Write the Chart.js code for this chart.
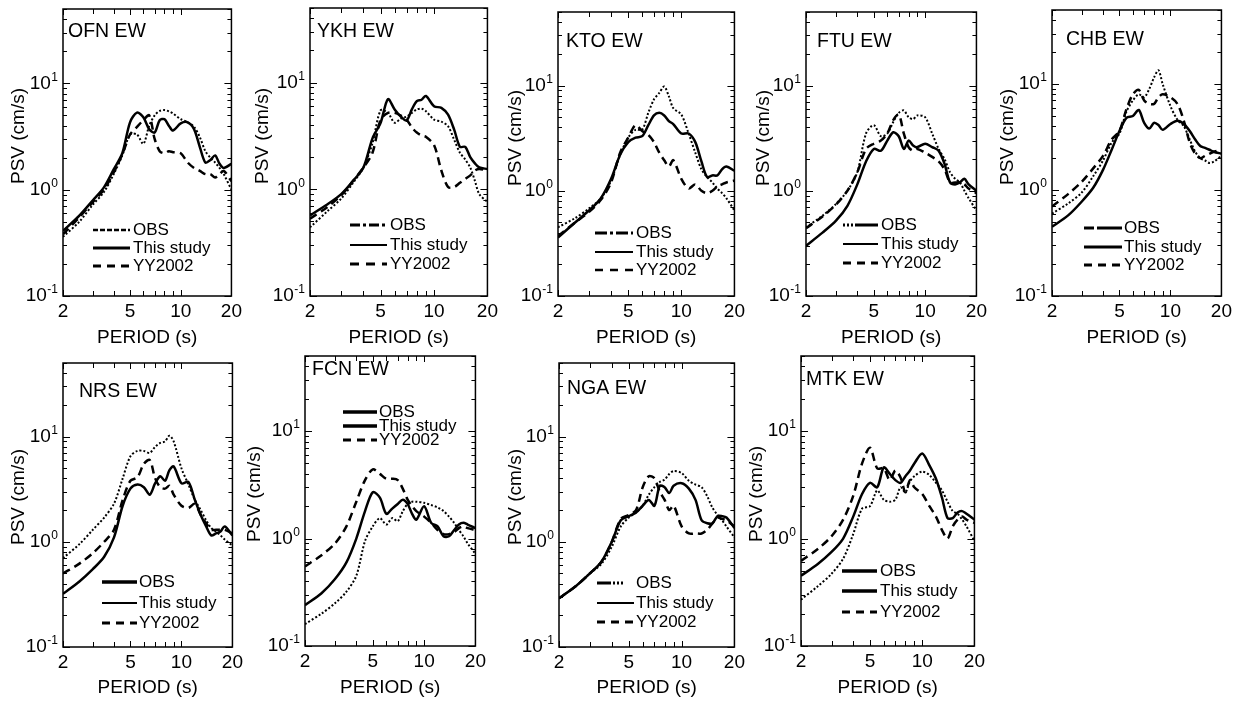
<!DOCTYPE html>
<html>
<head>
<meta charset="utf-8">
<script src="https://cdn.jsdelivr.net/npm/chart.js@4.4.1/dist/chart.umd.min.js"></script>
<style>
  body { margin: 0; background: #fff; }
  #wrap { position: relative; width: 1241px; height: 702px; overflow: hidden; }
  #wrap canvas { position: absolute; }
</style>
</head>
<body>
<div id="wrap"></div>
<script>
// periods (s) shared by every spectrum
const periods = [2, 2.5, 3, 3.5, 4, 4.5, 5, 5.5, 6, 6.5, 7, 7.5, 8, 8.5, 9, 10, 11, 12, 13, 14, 15, 16, 17, 18, 20];
const xTicks = [2, 3, 4, 5, 6, 7, 8, 9, 10, 20];
const xLabels = [2, 5, 10, 20];
const yTicks = [0.1, 0.2, 0.3, 0.4, 0.5, 0.6, 0.7, 0.8, 0.9, 1, 2, 3, 4, 5, 6, 7, 8, 9, 10, 20, 30, 40, 50];
const yLabels = [0.1, 1, 10];
const yExps = ['-1', '0', '1'];
const seriesNames = ['OBS', 'This study', 'YY2002'];

// PSV (cm/s)
const obsOFN   = [0.36,0.5,0.72,0.95,1.4,2.1,3.3,3.3,2.7,4.0,5.0,5.5,5.6,5.45,5.2,4.6,4.3,3.9,3.1,2.3,2.0,1.8,1.6,1.4,1.0];
const studyOFN = [0.41,0.57,0.79,1.05,1.55,2.2,4.3,5.3,4.8,3.7,3.45,4.5,4.6,4.0,3.6,4.2,4.3,3.7,2.5,1.8,1.9,2.1,1.75,1.6,1.75];
const yyOFN    = [0.38,0.55,0.76,1.0,1.45,2.15,3.3,3.9,4.5,5.0,3.0,2.3,2.2,2.3,2.25,2.2,1.8,1.6,1.5,1.4,1.4,1.3,1.4,1.5,1.2];

const obsYKH   = [0.44,0.62,0.82,1.15,1.6,2.7,5.5,5.2,4.2,4.6,4.8,5.2,5.6,5.7,5.4,4.5,4.3,3.9,2.9,2.2,1.9,1.6,1.2,0.9,0.76];
const studyYKH = [0.57,0.72,0.9,1.2,1.6,3.0,4.2,7.0,5.6,4.8,4.4,5.6,6.7,6.9,7.5,6.0,5.8,5.0,3.6,2.5,2.5,2.0,1.75,1.6,1.55];
const yyYKH    = [0.53,0.68,0.88,1.2,1.6,2.2,4.5,5.2,5.2,4.9,4.5,3.8,3.4,3.2,3.1,2.6,1.5,1.05,1.05,1.15,1.25,1.35,1.5,1.55,1.5];

const obsKTO   = [0.45,0.55,0.68,0.85,1.25,2.2,3.2,3.8,3.8,5.5,7.4,8.5,9.8,7.9,6.1,5.3,3.5,2.3,1.6,1.35,1.2,1.05,0.95,0.85,0.65];
const studyKTO = [0.36,0.5,0.65,0.85,1.3,2.2,2.9,3.2,3.3,4.2,5.2,5.5,5.2,4.6,4.3,3.5,3.5,2.9,1.9,1.35,1.4,1.4,1.6,1.7,1.55];
const yyKTO    = [0.37,0.5,0.63,0.82,1.2,2.3,3.2,4.2,3.7,3.4,2.9,2.3,1.95,1.7,1.95,1.3,1.05,1.15,1.0,0.95,1.0,1.1,1.15,1.2,1.25];

const obsFTU   = [0.45,0.58,0.75,1.0,1.5,3.5,4.2,3.3,3.5,4.5,5.5,5.8,5.0,4.8,5.2,5.0,3.5,2.5,2.0,1.5,1.3,1.2,1.0,0.85,0.65];
const studyFTU = [0.3,0.4,0.52,0.72,1.15,1.9,2.5,2.4,3.0,3.6,3.3,2.5,3.0,2.7,2.6,2.8,2.6,2.4,1.8,1.2,1.15,1.2,1.3,1.15,1.0];
const yyFTU    = [0.44,0.57,0.74,1.0,1.5,2.5,2.8,3.0,3.5,4.7,5.3,3.5,2.6,2.4,2.5,2.3,2.1,1.9,1.6,1.2,1.2,1.2,1.15,1.05,0.95];

const obsCHB   = [0.6,0.75,0.95,1.35,1.9,2.8,3.4,5.5,7.0,8.0,7.5,9.0,11.5,13.5,10,6.2,4.6,4.0,3.0,2.3,2.0,1.9,1.8,1.85,2.1];
const studyCHB = [0.45,0.58,0.78,1.05,1.55,2.4,3.6,4.8,5.0,5.7,4.3,3.8,4.3,4.1,3.7,4.2,4.5,4.2,3.6,3.0,2.6,2.5,2.4,2.3,2.2];
const yyCHB    = [0.7,0.92,1.2,1.6,2.1,3.0,3.6,5.8,8.0,8.8,7.0,6.5,6.5,7.5,8.0,7.5,6.5,4.5,2.8,2.2,2.0,2.1,2.2,2.3,2.4];

const obsNRS   = [0.7,0.95,1.3,1.7,2.3,4.0,6.5,7.3,7.3,7.0,8.0,8.7,9.0,10.2,9.0,5.0,3.5,2.5,2.0,1.6,1.35,1.25,1.15,1.05,0.92];
const studyNRS = [0.32,0.42,0.55,0.72,1.1,2.2,3.2,3.5,3.3,2.8,3.6,4.2,3.8,4.8,5.2,3.6,3.7,2.5,1.8,1.4,1.15,1.2,1.25,1.4,1.15];
const yyNRS    = [0.5,0.62,0.78,1.0,1.3,2.5,3.8,4.1,5.5,6.0,4.0,3.3,3.2,3.4,2.8,2.2,2.1,2.3,1.8,1.5,1.3,1.3,1.3,1.3,1.2];

const obsFCN   = [0.16,0.2,0.25,0.32,0.45,0.95,1.3,1.55,1.35,1.55,1.45,1.8,2.1,2.2,2.2,2.15,2.05,1.95,1.8,1.6,1.4,1.2,1.05,0.9,0.72];
const studyFCN = [0.24,0.31,0.42,0.6,1.0,1.8,2.7,2.4,1.7,1.9,2.1,2.3,2.1,1.7,1.5,2.0,1.4,1.3,1.05,1.05,1.2,1.35,1.4,1.35,1.25];
const yyFCN    = [0.55,0.7,0.9,1.3,2.2,3.5,4.4,4.0,3.6,3.6,3.5,2.9,2.3,2.0,1.8,1.6,1.4,1.2,1.1,1.1,1.15,1.25,1.3,1.25,1.2];

const obsNGA   = [0.29,0.38,0.5,0.62,0.9,1.4,1.7,1.9,2.2,2.8,3.3,3.7,3.9,4.4,4.7,4.5,3.8,3.5,3.3,2.7,2.1,1.8,1.6,1.4,1.1];
const studyNGA = [0.29,0.38,0.5,0.65,1.0,1.6,1.75,1.9,2.2,2.5,2.2,3.4,3.3,2.9,3.4,3.6,3.2,2.5,1.6,1.5,1.5,1.75,1.75,1.7,1.35];
const yyNGA    = [0.29,0.38,0.5,0.65,1.0,1.65,1.8,2.0,3.3,4.2,4.0,3.0,2.5,2.0,2.2,1.4,1.2,1.2,1.2,1.3,1.5,1.7,1.65,1.6,1.4];

const obsMTK   = [0.27,0.36,0.47,0.65,1.1,1.9,2.0,2.8,2.3,2.2,2.3,3.0,2.7,3.4,3.8,4.2,3.9,3.3,2.8,2.2,1.8,1.7,1.5,1.3,0.95];
const studyMTK = [0.45,0.58,0.75,1.0,1.6,2.6,3.3,3.0,4.6,4.0,3.5,3.3,3.8,4.3,5.0,6.2,4.8,3.6,2.4,1.55,1.55,1.75,1.8,1.7,1.5];
const yyMTK    = [0.62,0.8,1.05,1.5,2.5,5.0,7.0,4.5,4.5,3.5,4.3,3.7,2.7,3.5,3.0,2.6,2.0,1.6,1.2,1.0,1.3,1.5,1.6,1.5,1.4];

const FONT = '"Liberation Sans", Arial, Helvetica, sans-serif';

// plot box, title, legend placement (page pixels) and legend line styles
const panels = [
  { name: 'OFN', obs: obsOFN, study: studyOFN, yy: yyOFN, row: 0, left: 63, right: 232, top: 9, bottom: 296,
    title: [68, 32], yTitle: [19, 136], leg: [93, 130, 133, [230, 248, 266]],
    legStyle: [[2.5, [5, 2]], [3, []], [3, [8, 6]]] },
  { name: 'YKH', obs: obsYKH, study: studyYKH, yy: yyYKH, row: 0, left: 310, right: 488, top: 8, bottom: 296,
    title: [317, 32], yTitle: [263, 136], leg: [350, 387, 390, [225, 245, 264]],
    legStyle: [[3, [10, 3, 3, 3]], [2, []], [3, [9, 7]]] },
  { name: 'KTO', obs: obsKTO, study: studyKTO, yy: yyKTO, row: 0, left: 558, right: 735, top: 12, bottom: 296,
    title: [566, 42], yTitle: [516, 138], leg: [595, 633, 636, [233, 252, 270]],
    legStyle: [[3, [12, 3, 3, 3]], [2, []], [2.5, [8, 7]]] },
  { name: 'FTU', obs: obsFTU, study: studyFTU, yy: yyFTU, row: 0, left: 806, right: 977, top: 12, bottom: 296,
    title: [817, 42], yTitle: [764, 138], leg: [843, 878, 881, [225, 244, 263]],
    legStyle: [[3, [2, 2, 2, 2, 2, 2, 40]], [2, []], [3, [8, 6]]] },
  { name: 'CHB', obs: obsCHB, study: studyCHB, yy: yyCHB, row: 0, left: 1052, right: 1222, top: 10, bottom: 296,
    title: [1066, 40], yTitle: [1008, 137], leg: [1084, 1122, 1124, [228, 247, 265]],
    legStyle: [[3, [10, 3, 40]], [3, []], [3, [8, 6]]] },
  { name: 'NRS', obs: obsNRS, study: studyNRS, yy: yyNRS, row: 1, left: 63, right: 233, top: 363, bottom: 647,
    title: [79, 392], yTitle: [19, 497], leg: [102, 137, 139, [582, 603, 623]],
    legStyle: [[3.5, []], [2, []], [3, [8, 6]]] },
  { name: 'FCN', obs: obsFCN, study: studyFCN, yy: yyFCN, row: 1, left: 305, right: 476, top: 356, bottom: 646,
    title: [312, 370], yTitle: [255, 494], leg: [343, 377, 379, [412, 426, 440]],
    legStyle: [[3.5, []], [3.5, []], [3, [8, 6]]] },
  { name: 'NGA', obs: obsNGA, study: studyNGA, yy: yyNGA, row: 1, left: 559, right: 735, top: 363, bottom: 647,
    title: [567, 389], yTitle: [516, 497], leg: [597, 634, 636, [583, 603, 622]],
    legStyle: [[3, [14, 2, 2, 2, 2, 2, 2, 40]], [2, []], [3, [8, 6]]] },
  { name: 'MTK', obs: obsMTK, study: studyMTK, yy: yyMTK, row: 1, left: 801, right: 975, top: 356, bottom: 646,
    title: [806, 380], yTitle: [757, 494], leg: [842, 877, 880, [571, 591, 612]],
    legStyle: [[3.5, []], [3.5, []], [3, [8, 6]]] }
];

const frame = {
  id: 'frame',
  afterDraw(chart) {
    const p = chart.options.plugins.frame.panel;
    const ox = chart.options.plugins.frame.ox, oy = chart.options.plugins.frame.oy;
    const { ctx, chartArea: a, scales: { x, y } } = chart;
    const seg = (x1, y1, x2, y2) => { ctx.beginPath(); ctx.moveTo(x1, y1); ctx.lineTo(x2, y2); ctx.stroke(); };
    ctx.save();
    ctx.strokeStyle = '#000';
    ctx.fillStyle = '#000';
    ctx.lineWidth = 1;
    xTicks.forEach(v => {
      const px = Math.round(x.getPixelForValue(v)) + 0.5;
      const len = xLabels.includes(v) ? 6 : 5;
      seg(px, a.bottom, px, a.bottom - len);
      seg(px, a.top, px, a.top + len);
    });
    yTicks.forEach(v => {
      const py = Math.round(y.getPixelForValue(v)) + 0.5;
      const len = yLabels.includes(v) ? 7 : 4;
      seg(a.left, py, a.left + len, py);
      seg(a.right, py, a.right - len, py);
    });
    ctx.lineWidth = 1.5;
    ctx.strokeRect(a.left, a.top, a.right - a.left, a.bottom - a.top);

    // y tick labels with superscript exponent
    ctx.textBaseline = 'middle';
    yLabels.forEach((v, i) => {
      const py = y.getPixelForValue(v);
      ctx.textAlign = 'right';
      ctx.font = '12px ' + FONT;
      const sw = ctx.measureText(yExps[i]).width;
      ctx.fillText(yExps[i], a.left - 5, py - 6);
      ctx.font = '19px ' + FONT;
      ctx.fillText('10', a.left - 5 - sw - 0.5, py);
    });

    // y axis title
    ctx.save();
    ctx.translate(p.yTitle[0] - ox, p.yTitle[1] - oy);
    ctx.rotate(-Math.PI / 2);
    ctx.textAlign = 'center';
    ctx.font = '19px ' + FONT;
    ctx.fillText('PSV (cm/s)', 0, 0);
    ctx.restore();

    // station label
    ctx.textAlign = 'left';
    ctx.font = '19.5px ' + FONT;
    ctx.fillText(p.name + ' EW', p.title[0] - ox, p.title[1] - oy);

    // legend
    const [lx0, lx1, tx, rows] = p.leg;
    ctx.font = '17px ' + FONT;
    seriesNames.forEach((s, i) => {
      const [w, dash] = p.legStyle[i];
      const ly = rows[i] - oy;
      ctx.lineWidth = w;
      ctx.setLineDash(dash);
      seg(lx0 - ox, ly, lx1 - ox, ly);
      ctx.setLineDash([]);
      ctx.fillText(s, tx - ox, ly);
    });
    ctx.restore();
  }
};

const wrap = document.getElementById('wrap');
panels.forEach(p => {
  const oy = p.row === 0 ? 0 : 350;
  const ox = p.left - 63;
  const cw = p.right - ox + 14;
  const ch = 352;
  const cv = document.createElement('canvas');
  cv.width = cw; cv.height = ch;
  cv.style.left = ox + 'px';
  cv.style.top = oy + 'px';
  cv.style.width = cw + 'px';
  cv.style.height = ch + 'px';
  wrap.appendChild(cv);

  const pts = arr => periods.map((x, k) => ({ x, y: arr[k] }));
  new Chart(cv, {
    type: 'line',
    data: {
      datasets: [
        { label: 'OBS', data: pts(p.obs), borderColor: '#000', borderWidth: 2, borderDash: [2, 2] },
        { label: 'YY2002', data: pts(p.yy), borderColor: '#000', borderWidth: 2.5, borderDash: [8, 5] },
        { label: 'This study', data: pts(p.study), borderColor: '#000', borderWidth: 2.5 }
      ]
    },
    options: {
      responsive: false,
      animation: false,
      devicePixelRatio: 1,
      layout: { padding: { left: 0, right: cw - (p.right - ox), top: p.top - oy, bottom: 0 } },
      elements: { point: { radius: 0 }, line: { tension: 0.3, fill: false } },
      plugins: {
        legend: { display: false },
        tooltip: { enabled: false },
        frame: { panel: p, ox, oy }
      },
      scales: {
        x: {
          type: 'logarithmic', min: 2, max: 20,
          afterBuildTicks: s => { s.ticks = xTicks.map(v => ({ value: v })); },
          afterFit: s => { s.height = ch - (p.bottom - oy); },
          grid: { display: false, drawTicks: false },
          border: { display: false },
          ticks: {
            autoSkip: false, maxRotation: 0, padding: 4, color: '#000',
            font: { family: FONT, size: 19 },
            callback: v => xLabels.includes(v) ? String(v) : ''
          },
          title: { display: true, text: 'PERIOD (s)', color: '#000', font: { family: FONT, size: 19 }, padding: { top: 0, bottom: 3 } }
        },
        y: {
          type: 'logarithmic', min: 0.1, max: 50,
          afterBuildTicks: s => { s.ticks = yTicks.map(v => ({ value: v })); },
          afterFit: s => { s.width = 63; },
          grid: { display: false },
          border: { display: false },
          ticks: { display: false }
        }
      }
    },
    plugins: [frame]
  });
});
</script>
</body>
</html>
